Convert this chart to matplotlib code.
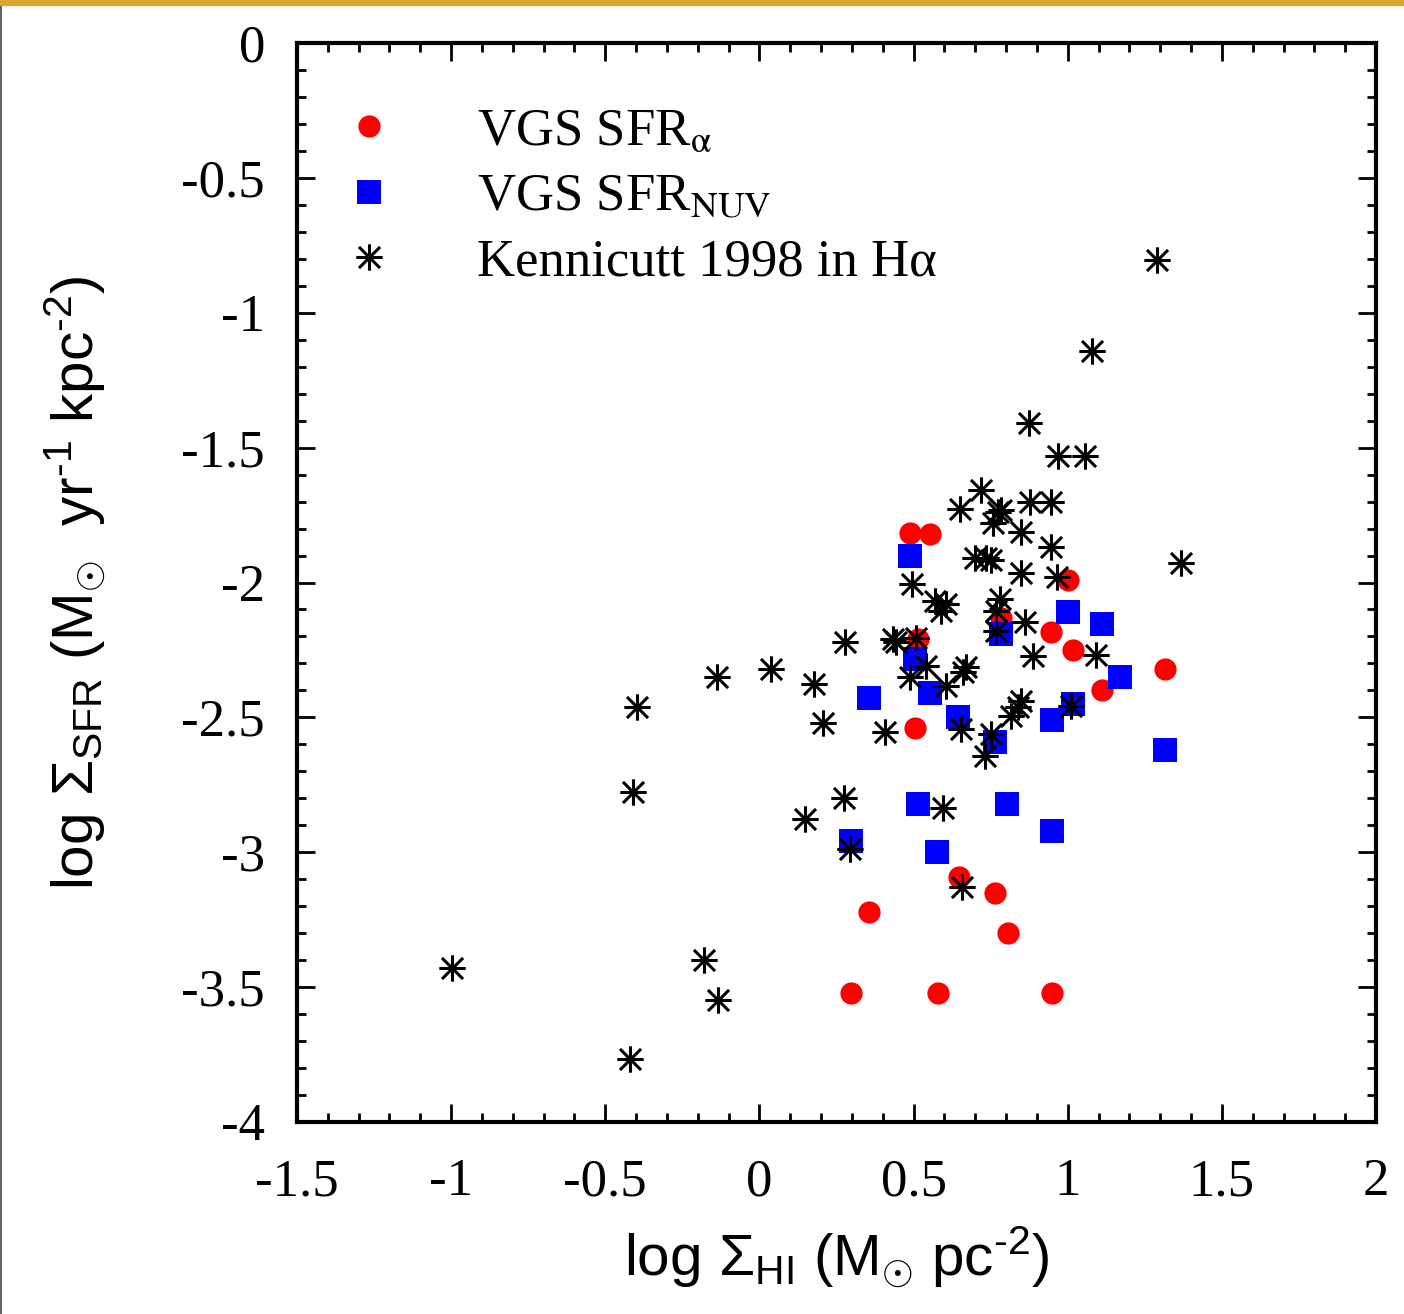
import matplotlib
matplotlib.use('Agg')
import matplotlib.pyplot as plt
from matplotlib.path import Path
from matplotlib.font_manager import FontProperties
from matplotlib.ticker import MultipleLocator
from matplotlib.patches import Rectangle
from matplotlib.lines import Line2D

# VGS galaxies, SFR from H-alpha
ha_x = [0.49, 0.553, 1.00, 0.515, 0.945, 1.016, 1.11, 1.317, 0.505, 0.783,
        0.647, 0.764, 0.806, 0.356, 0.298, 0.579, 0.948]
ha_y = [-1.815, -1.82, -1.99, -2.21, -2.185, -2.25, -2.40, -2.32, -2.54, -2.133,
        -3.09, -3.15, -3.30, -3.22, -3.52, -3.52, -3.52]

# VGS galaxies, SFR from NUV
nuv_x = [0.49, 1.00, 1.11, 0.783, 0.505, 0.553, 0.356, 1.168, 0.644, 1.016,
         0.948, 0.764, 1.317, 0.515, 0.803, 0.948, 0.298, 0.576]
nuv_y = [-1.90, -2.11, -2.155, -2.19, -2.285, -2.41, -2.43, -2.35, -2.50, -2.45,
         -2.51, -2.59, -2.62, -2.82, -2.82, -2.92, -2.96, -3.00]

# Kennicutt 1998 H-alpha sample
ken_x = [1.291, 1.078, 0.874, 0.968, 1.055, 0.877, 0.945, 1.366, 0.848, 0.945,
         0.848, 0.964, 0.783, 0.718, 0.650, 0.773, 0.757, 0.699, 0.735, 0.751,
         0.495, 0.570, 0.605, 0.589, 0.780, 0.767, 0.861, 0.767, 1.091, 0.887,
         0.278, 0.434, 0.443, 0.508, 0.540, 0.489, 0.670, 0.660, 0.178, 0.605,
         0.207, 0.408, 0.654, 0.848, 0.838, 0.816, 1.010, 0.751, 0.731, -0.398,
         -0.139, 0.039, -0.411, 0.275, 0.149, 0.294, -0.997, -0.181, -0.133, -0.421,
         0.595, 0.657]
ken_y = [-0.804, -1.141, -1.407, -1.530, -1.530, -1.700, -1.700, -1.926, -1.811, -1.870,
         -1.963, -1.978, -1.730, -1.656, -1.726, -1.737, -1.778, -1.911, -1.911, -1.915,
         -2.007, -2.070, -2.081, -2.107, -2.063, -2.107, -2.148, -2.181, -2.267, -2.274,
         -2.222, -2.211, -2.219, -2.204, -2.311, -2.352, -2.315, -2.333, -2.378, -2.385,
         -2.519, -2.556, -2.544, -2.441, -2.463, -2.496, -2.459, -2.563, -2.644, -2.463,
         -2.352, -2.319, -2.778, -2.800, -2.878, -2.989, -3.430, -3.400, -3.548, -3.767,
         -2.837, -3.130]

plt.rcParams['axes.unicode_minus'] = False
plt.rcParams['mathtext.fontset'] = 'custom'
plt.rcParams['mathtext.rm'] = 'Liberation Sans'
plt.rcParams['mathtext.it'] = 'Liberation Sans:italic'
plt.rcParams['mathtext.bf'] = 'Liberation Sans:bold'

# gnuplot style star: a plus with a slightly shorter cross on top
d = 0.8
star = Path([(-1, 0), (1, 0), (0, -1), (0, 1), (-d, -d), (d, d), (-d, d), (d, -d)],
            [Path.MOVETO, Path.LINETO] * 4)

fig = plt.figure(figsize=(14.04, 13.14), dpi=100)
ax = fig.add_axes([297 / 1404, 192 / 1314, 1079 / 1404, 1079 / 1314])

ax.plot(ha_x, ha_y, 'o', color='#ff0000', markersize=16, markeredgewidth=0,
        label=r'VGS SFR$_{\mathrm{α}}$', zorder=3)
ax.plot(nuv_x, nuv_y, 's', color='#0000ff', markersize=17, markeredgewidth=0,
        label=r'VGS SFR$_{\rm NUV}$', zorder=4)
ax.plot(ken_x, ken_y, linestyle='none', marker=star, color='black',
        markersize=19, markeredgewidth=2.2, label='Kennicutt 1998 in H\u03b1', zorder=5)

ax.set_xlim(-1.5, 2)
ax.set_ylim(-4, 0)
ax.xaxis.set_major_locator(MultipleLocator(0.5))
ax.xaxis.set_minor_locator(MultipleLocator(0.1))
ax.yaxis.set_major_locator(MultipleLocator(0.5))
ax.yaxis.set_minor_locator(MultipleLocator(0.1))
ax.set_xticklabels([f'{v:g}' for v in ax.get_xticks()])
ax.set_yticklabels([f'{v:g}' for v in ax.get_yticks()])

ax.tick_params(which='both', direction='in', top=True, right=True, width=2)
ax.tick_params(which='major', length=13, pad=23)
ax.tick_params(which='minor', length=6.5)
ax.tick_params(axis='x', which='major', pad=26)
for lab in ax.get_xticklabels() + ax.get_yticklabels():
    lab.set_fontfamily('Liberation Serif')
    lab.set_fontsize(38)
for sp in ax.spines.values():
    sp.set_linewidth(3)

ax.set_xlabel(r'log $\Sigma_{\rm HI}$ (M$_{\odot}$ pc$^{\text{-}2}$)',
              fontfamily='Liberation Sans', fontsize=42)
ax.set_ylabel(r'log $\Sigma_{\rm SFR}$ (M$_{\odot}$  yr$^{\text{-}1}$ kpc$^{\text{-}2}$)',
              fontfamily='Liberation Sans', fontsize=42)
ax.xaxis.set_label_coords(0.5, -0.095)
ax.yaxis.set_label_coords(-0.175, 0.5)

leg_font = FontProperties(family='Liberation Serif', size=38, math_fontfamily='stix')
ax.legend(loc='upper left', bbox_to_anchor=(0.04, 0.94), frameon=False,
          prop=leg_font, handlelength=1.1, handletextpad=1.5,
          labelspacing=0.33, borderpad=0, borderaxespad=0)

# gold strip at the top and thin frame line on the left
fig.add_artist(Rectangle((0, 1 - 5 / 1314), 1, 5 / 1314, transform=fig.transFigure,
                         color='#d6a933', zorder=10))
fig.add_artist(Line2D([0.0007, 0.0007], [0, 1 - 5 / 1314], transform=fig.transFigure,
                      color='#444444', linewidth=1.2))

fig.savefig('out.png', dpi=100)
